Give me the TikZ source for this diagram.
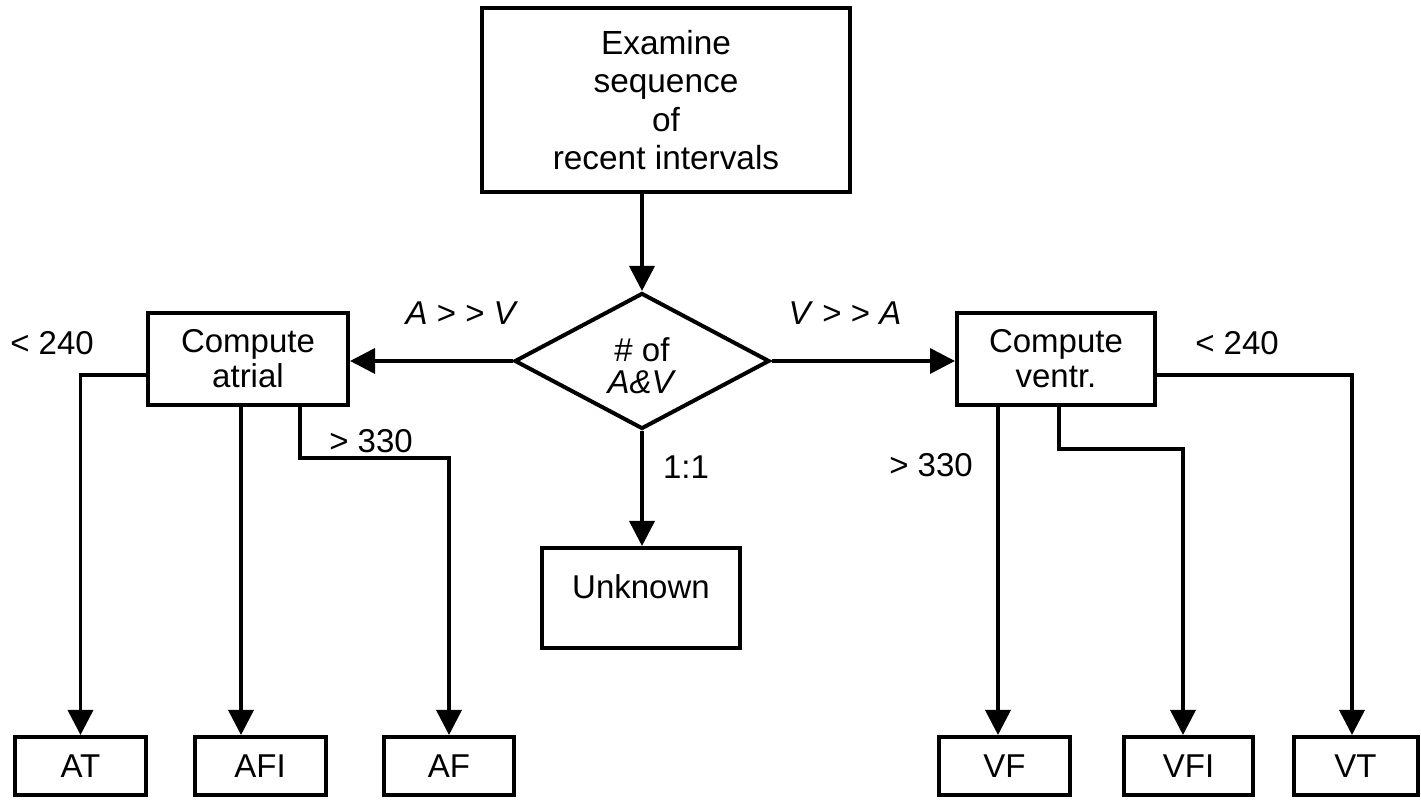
\documentclass[tikz,border=0pt]{standalone}
\usepackage{fontspec}
\setmainfont{Liberation Sans}
\usetikzlibrary{arrows.meta,shapes.geometric}
\begin{document}
\begin{tikzpicture}[x=0.5pt,y=-0.5pt,
  box/.style={draw, line width=2pt, inner sep=0pt, align=center,
    font=\fontsize{16.5}{19}\selectfont},
  lbl/.style={font=\fontsize{16.5}{19}\selectfont, inner sep=0pt},
  arr/.style={line width=1.8pt, -{Triangle[length=12.5pt,width=12.5pt]}},
  ln/.style={line width=1.8pt}]
\useasboundingbox (0,0) rectangle (1421,801);

% boxes
\node[box, minimum width=184pt, minimum height=92pt,
  font=\fontsize{16.7}{19.3}\selectfont] (top) at (666,100)
  {Examine\\sequence\\of\\recent intervals};
\node[draw, diamond, line width=2pt, minimum width=127.5pt, minimum height=68pt,
  inner sep=0pt] (dec) at (642,361) {};
\node[lbl, align=center, font=\fontsize{16.5}{16}\selectfont, yshift=-2.2pt] (dect)
  at (dec.center) {\# of\\\textit{A\&V}};
\node[box, minimum width=100pt, minimum height=46pt,
  font=\fontsize{16.5}{17.5}\selectfont] (atrial) at (248,359) {Compute\\atrial};
\node[box, minimum width=99pt, minimum height=46pt,
  font=\fontsize{16.5}{17.5}\selectfont] (ventr) at (1056,359) {Compute\\ventr.};
\node[box, minimum width=99pt, minimum height=50pt] (unk) at (641,598)
  {\raisebox{11pt}{Unknown}};

\node[box, minimum width=65.5pt, minimum height=29pt] (AT) at (80.5,766) {AT};
\node[box, minimum width=65.5pt, minimum height=29pt] (AFI) at (260,766) {AFI};
\node[box, minimum width=65pt, minimum height=29pt] (AF) at (449,766) {AF};
\node[box, minimum width=65.5pt, minimum height=29pt] (VF) at (1004.5,766) {VF};
\node[box, minimum width=64.5pt, minimum height=29pt] (VFI) at (1188.5,766) {VFI};
\node[box, minimum width=62pt, minimum height=29pt] (VT) at (1355.5,766) {VT};

% helper coordinates
\coordinate (yA) at (0,375);
\coordinate (xAFI) at (241,0);
\coordinate (xA3) at (300,0);
\coordinate (yA3) at (0,458);
\coordinate (xVF) at (998,0);
\coordinate (xV2) at (1059,0);
\coordinate (yV2) at (0,449);
\coordinate (xVFI) at (1183,0);
\coordinate (xVT) at (1352,0);

% connectors
\draw[arr] (top.south -| dec.north) -- (dec.north);
\draw[arr] (dec.west) -- (dec.west -| atrial.east);
\draw[arr] (dec.east) -- (dec.east -| ventr.west);
\draw[arr] (dec.south) -- (dec.south |- unk.north);

\draw[arr] (atrial.west |- yA) -| (AT.north);
\draw[arr] (atrial.south -| xAFI) -- (AFI.north -| xAFI);
\draw[arr] (atrial.south -| xA3) -- (xA3 |- yA3) -| (AF.north);

\draw[arr] (ventr.south -| xVF) -- (VF.north -| xVF);
\draw[arr] (ventr.south -| xV2) -- (xV2 |- yV2) -| (VFI.north -| xVFI);
\draw[arr] (ventr.east |- yA) -| (VT.north -| xVT);

% labels
\node[lbl] (l1) at (52,343) {< 240};
\node[lbl] (l2) at (462,313) {\textit{A} > > \textit{V}};
\node[lbl] (l3) at (845,313) {\textit{V} > > \textit{A}};
\node[lbl] (l4) at (1237,343) {< 240};
\node[lbl] (l5) at (371,441) {> 330};
\node[lbl] (l6) at (931,465) {> 330};
\node[lbl] (l7) at (686,467) {1:1};
\end{tikzpicture}
\end{document}
